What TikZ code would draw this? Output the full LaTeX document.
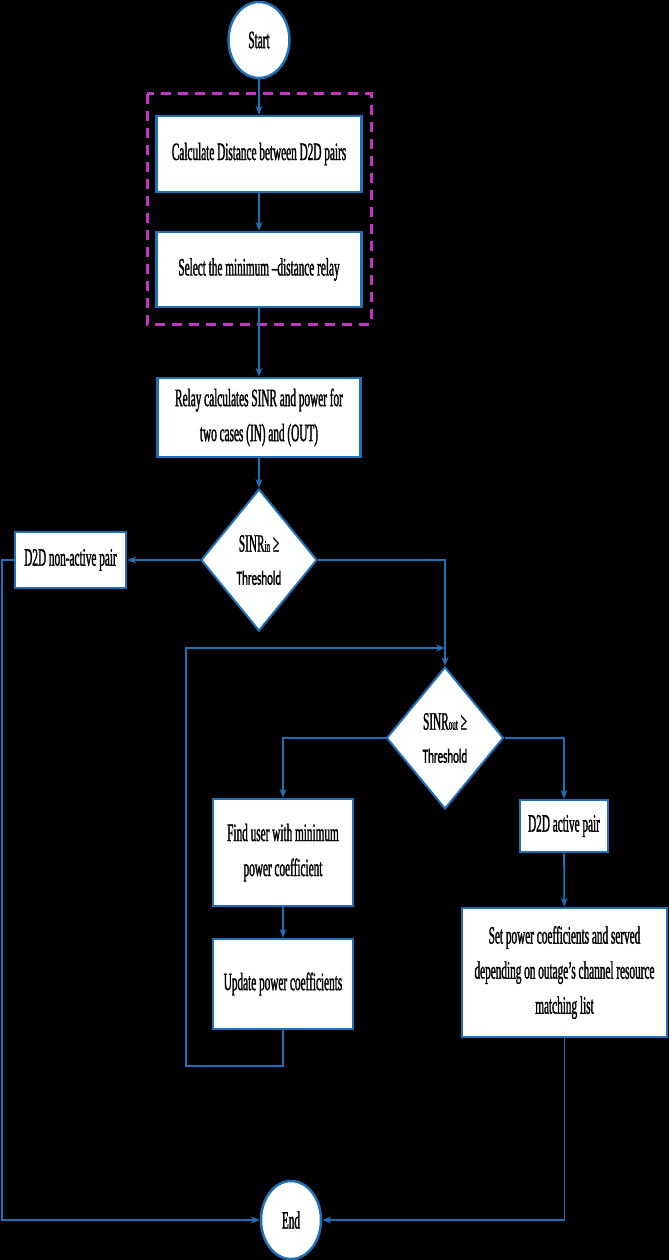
\documentclass[tikz,border=0pt]{standalone}
\usepackage{fontspec}
\setmainfont{Liberation Serif}[FakeStretch=0.45, FakeBold=1.2]
\newfontfamily\thfont{Carlito}[FakeStretch=0.55, FakeBold=1.5]
\usetikzlibrary{shapes.geometric,arrows.meta}
\definecolor{flowblue}{HTML}{1E70B8}
\definecolor{flowmag}{HTML}{C535C5}
\tikzset{
  box/.style={draw=flowblue, line width=2.5pt, fill=white, align=center, inner sep=2pt, font=\fontsize{25}{35}\selectfont},
  term/.style={ellipse, draw=flowblue, line width=2.5pt, fill=white, inner sep=0pt, font=\fontsize{25}{35}\selectfont},
  decide/.style={diamond, draw=flowblue, line width=2pt, fill=white, inner sep=0pt, align=center, font=\fontsize{25}{33}\selectfont},
  flow/.style={draw=flowblue, line width=1.8pt}
}
\newcommand{\sublbl}[1]{{\fontsize{16}{16}\selectfont #1}}
\newcommand{\thr}{{\thfont\fontsize{20}{20}\selectfont Threshold}}
\begin{document}
\begin{tikzpicture}[x=1pt, y=-1pt, >={Stealth[length=9pt,width=7pt]}]
  \fill[black] (0,0) rectangle (669,1260);
  \useasboundingbox (0,0) rectangle (669,1260);
  \draw[flowmag, line width=3pt, dash pattern=on 10pt off 7pt] (147,94) rectangle (371,324);

  \node[term, minimum width=61pt, minimum height=76pt] (start) at (259,40) {Start};
  \node[box, minimum width=205pt, minimum height=76pt] (calc) at (259,154) {Calculate Distance between D2D pairs};
  \node[box, minimum width=205pt, minimum height=75pt] (select) at (259,269.5) {Select the minimum –distance relay};
  \node[box, minimum width=203pt, minimum height=79pt] (relay) at (259,417.5) {Relay calculates SINR and power for\\two cases (IN) and (OUT)};
  \node[decide, minimum width=116pt, minimum height=142pt] (dec1) at (259,560) {SINR\sublbl{in} ≥\\\thr};
  \node[box, minimum width=111pt, minimum height=56pt] (nonactive) at (70.5,560) {D2D non-active pair};
  \node[decide, minimum width=117pt, minimum height=142pt] (dec2) at (445,738) {SINR\sublbl{out} ≥\\\thr};
  \node[box, minimum width=140pt, minimum height=107pt] (find) at (283,852.5) {Find user with minimum\\power coefficient};
  \node[box, minimum width=140pt, minimum height=90pt] (update) at (283,984) {Update power coefficients};
  \node[box, minimum width=88pt, minimum height=52pt] (active) at (564,826) {D2D active pair};
  \node[box, minimum width=205pt, minimum height=129pt] (setbox) at (564.5,972.5) {Set power coefficients and served\\depending on outage’s channel resource\\matching list};
  \node[term, minimum width=60pt, minimum height=78pt] (end) at (291,1220) {End};

  \coordinate (leftrail) at (2,560);
  \coordinate (loopin) at (445,648);
  \coordinate (loopcorner) at (186,1066);

  \draw[flow,->] (start) -- (calc);
  \draw[flow,->] (calc) -- (select);
  \draw[flow,->] (select) -- (relay);
  \draw[flow,->] (relay) -- (dec1);
  \draw[flow,->] (dec1) -- (nonactive);
  \draw[flow,->] (dec1.east) -| (dec2.north);
  \draw[flow,->] (update.south) |- (loopcorner) |- (loopin);
  \draw[flow,->] (dec2.west) -| (find.north);
  \draw[flow,->] (dec2.east) -| (active.north);
  \draw[flow,->] (find) -- (update);
  \draw[flow,->] (active) -- (setbox);
  \draw[flow,->] (nonactive.west) -- (leftrail) |- (end.west);
  \draw[flow,->] (setbox.south) |- (end.east);
\end{tikzpicture}
\end{document}
